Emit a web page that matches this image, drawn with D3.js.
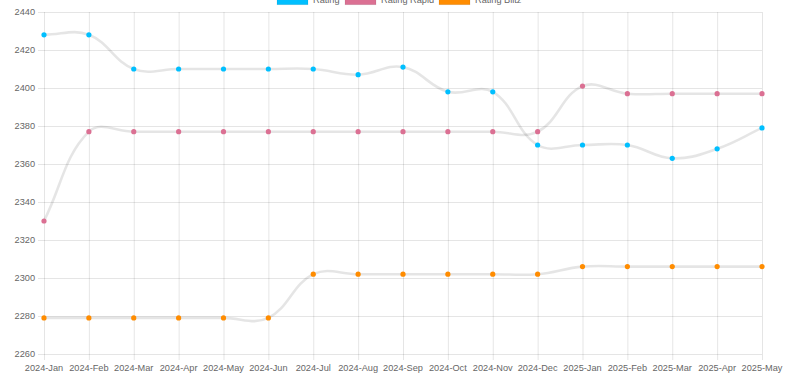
<!DOCTYPE html>
<html><head><meta charset="utf-8">
<script src="https://cdn.jsdelivr.net/npm/d3@7"></script>
<style>html,body{margin:0;padding:0;background:#fff;overflow:hidden}</style>
</head><body>
<svg id="c" width="800" height="374"></svg>
<script>
const months = ["2024-Jan","2024-Feb","2024-Mar","2024-Apr","2024-May","2024-Jun","2024-Jul","2024-Aug","2024-Sep","2024-Oct","2024-Nov","2024-Dec","2025-Jan","2025-Feb","2025-Mar","2025-Apr","2025-May"];
const rating = [2428,2428,2410,2410,2410,2410,2410,2407,2411,2398,2398,2370,2370,2370,2363,2368,2379];
const ratingRapid = [2330,2377,2377,2377,2377,2377,2377,2377,2377,2377,2377,2377,2401,2397,2397,2397,2397];
const ratingBlitz = [2279,2279,2279,2279,2279,2279,2302,2302,2302,2302,2302,2302,2306,2306,2306,2306,2306];
const yTicks = [2260,2280,2300,2320,2340,2360,2380,2400,2420,2440];
const seriesNames = ["Rating","Rating Rapid","Rating Blitz"];
const seriesColors = ["#00BFFF","#DB7093","#FF8C00"];
const seriesData = [rating, ratingRapid, ratingBlitz];

const svg = d3.select("#c");
const pLeft = 44, pRight = 762, pTop = 12, pBottom = 354;
const x = d3.scalePoint().domain(months).range([pLeft, pRight]);
const y = d3.scaleLinear().domain([2260, 2440]).range([pBottom, pTop]);
const grid = "rgba(0,0,0,0.1)";
const font = "Liberation Sans, Arial, Helvetica, sans-serif";

// gridlines
const g = svg.append("g");
yTicks.forEach(v => {
  g.append("line").attr("x1", pLeft - 6).attr("x2", pRight).attr("y1", y(v) + 0.5).attr("y2", y(v) + 0.5)
    .attr("stroke", grid).attr("stroke-width", 1);
  g.append("text").attr("x", pLeft - 9).attr("y", y(v)).attr("dy", "0.35em")
    .attr("text-anchor", "end").attr("font-family", font).attr("font-size", 9.2).attr("fill", "#666").text(v);
});
months.forEach(m => {
  g.append("line").attr("x1", x(m) + 0.5).attr("x2", x(m) + 0.5).attr("y1", pTop).attr("y2", pBottom + 6)
    .attr("stroke", grid).attr("stroke-width", 1);
  g.append("text").attr("x", x(m)).attr("y", 371).attr("text-anchor", "middle")
    .attr("font-family", font).attr("font-size", 9.2).attr("fill", "#666").text(m);
});

// Chart.js style spline (tension 0.4)
function splinePath(pts, t) {
  const clampY = v => Math.max(pTop, Math.min(pBottom, v));
  const cps = pts.map((cur, i) => {
    const prev = pts[i - 1] || cur, next = pts[i + 1] || cur;
    const d01 = Math.hypot(cur[0] - prev[0], cur[1] - prev[1]);
    const d12 = Math.hypot(next[0] - cur[0], next[1] - cur[1]);
    let s01 = d01 / (d01 + d12), s12 = d12 / (d01 + d12);
    if (isNaN(s01)) s01 = 0; if (isNaN(s12)) s12 = 0;
    const fa = t * s01, fb = t * s12;
    return {
      p: [cur[0] - fa * (next[0] - prev[0]), clampY(cur[1] - fa * (next[1] - prev[1]))],
      n: [cur[0] + fb * (next[0] - prev[0]), clampY(cur[1] + fb * (next[1] - prev[1]))]
    };
  });
  const path = d3.path();
  path.moveTo(pts[0][0], pts[0][1]);
  for (let i = 1; i < pts.length; i++) {
    path.bezierCurveTo(cps[i - 1].n[0], cps[i - 1].n[1], cps[i].p[0], cps[i].p[1], pts[i][0], pts[i][1]);
  }
  return path.toString();
}

for (let s = seriesData.length - 1; s >= 0; s--) {
  const pts = seriesData[s].map((v, i) => [x(months[i]), y(v)]);
  svg.append("path").attr("d", splinePath(pts, 0.4)).attr("fill", "none")
    .attr("stroke", "rgba(0,0,0,0.1)").attr("stroke-width", 2.6);
  svg.append("g").selectAll("circle").data(pts).join("circle")
    .attr("cx", d => d[0]).attr("cy", d => d[1]).attr("r", 2.6)
    .attr("fill", seriesColors[s]);
}

// legend
const legendX = [277, 345, 439];
seriesNames.forEach((n, i) => {
  svg.append("rect").attr("x", legendX[i]).attr("y", -4.5).attr("width", 31).attr("height", 9.2)
    .attr("fill", seriesColors[i]).attr("stroke", "rgba(0,0,0,0.1)").attr("stroke-width", 0.75);
  svg.append("text").attr("x", legendX[i] + 36).attr("y", 0).attr("dy", "0.35em")
    .attr("font-family", font).attr("font-size", 9.2).attr("fill", "#666").text(n);
});
</script>
</body></html>
